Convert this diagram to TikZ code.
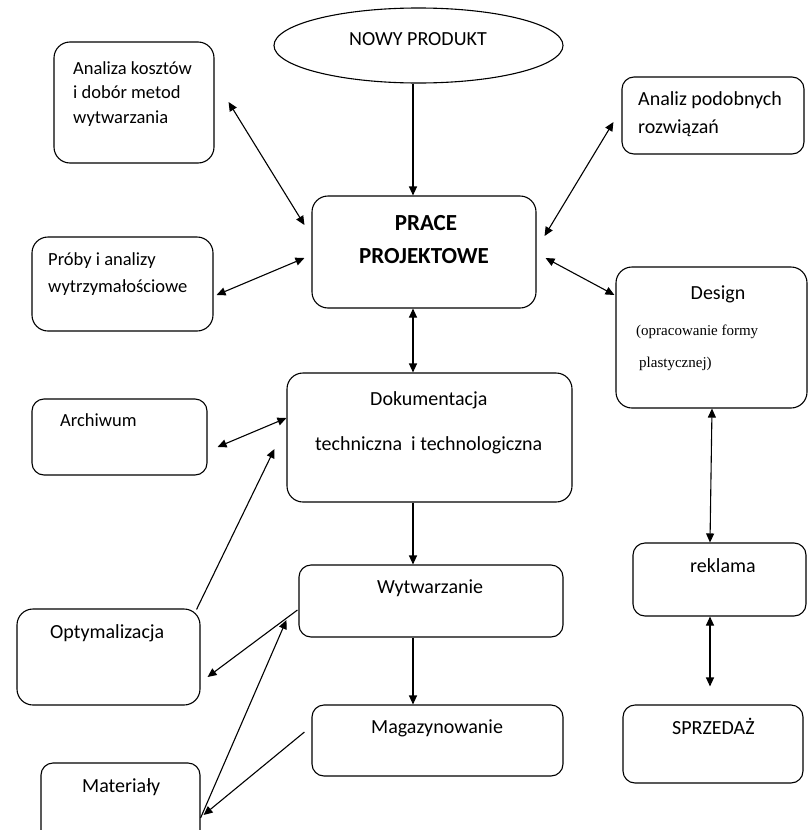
\documentclass[tikz,border=0pt]{standalone}
\usepackage{fontspec}
\setmainfont{Carlito}
\newfontfamily\timesfont{Liberation Serif}
\usetikzlibrary{shapes.geometric,arrows.meta}

\begin{document}
\begin{tikzpicture}[x=1pt, y=-1pt,
	box/.style={draw, line width=1.1pt, rounded corners=16pt},
	txt/.style={inner sep=0pt, font=\fontsize{20}{26}\selectfont},
	small/.style={font=\fontsize{18.5}{26}\selectfont},
	link/.style={line width=1.1pt, {Triangle[length=9pt,width=8pt]}-{Triangle[length=9pt,width=8pt]}},
	arr/.style={line width=1.1pt, -{Triangle[length=9pt,width=8pt]}}]

	\useasboundingbox (0,0) rectangle (808,830);

	%ramki
	\node[draw, line width=1.1pt, ellipse, minimum width=289pt, minimum height=75pt] (nowy) at (418.5,45.5) {};
	\node[box, minimum width=160pt, minimum height=121pt] (kosz) at (134,102.5) {};
	\node[box, minimum width=181pt, minimum height=94pt] (proby) at (122.5,284) {};
	\node[box, minimum width=224pt, minimum height=112pt] (prace) at (424,252) {};
	\node[box, minimum width=182pt, minimum height=77pt, rounded corners=12pt] (podob) at (713,115.5) {};
	\node[box, minimum width=191pt, minimum height=141pt] (design) at (711.5,337.5) {};
	\node[box, minimum width=285pt, minimum height=129pt] (dok) at (429.5,437.5) {};
	\node[box, minimum width=175pt, minimum height=76pt, rounded corners=12pt] (arch) at (119.5,437) {};
	\node[box, minimum width=264pt, minimum height=72pt, rounded corners=12pt] (wytw) at (431,601) {};
	\node[box, minimum width=251pt, minimum height=71pt, rounded corners=12pt] (magaz) at (437.5,740.5) {};
	\node[box, minimum width=183pt, minimum height=96pt] (optym) at (108.5,657) {};
	\node[box, minimum width=159pt, minimum height=82pt, rounded corners=12pt] (mater) at (120.5,804) {};
	\node[box, minimum width=173pt, minimum height=73pt, rounded corners=12pt] (rekl) at (719.5,579.5) {};
	\node[box, minimum width=180pt, minimum height=78pt, rounded corners=12pt] (sprz) at (713,744) {};

	%napisy
	\node[txt, anchor=base west] (nowy-t) at (349,45) {NOWY PRODUKT};
	\node[txt, small, anchor=base west] (kosz-t1) at (73,74) {Analiza kosztów};
	\node[txt, small, anchor=base west] (kosz-t2) at (73,98) {i dobór metod};
	\node[txt, small, anchor=base west] (kosz-t3) at (73,123) {wytwarzania};
	\node[txt, small, anchor=base west] (proby-t1) at (48,265) {Próby i analizy};
	\node[txt, small, anchor=base west] (proby-t2) at (48,292) {wytrzymałościowe};
	\node[txt, anchor=base, font=\fontsize{23}{26}\selectfont\bfseries] (prace-t1) at (426,230) {PRACE};
	\node[txt, anchor=base, font=\fontsize{23}{26}\selectfont\bfseries] (prace-t2) at (424,263) {PROJEKTOWE};
	\node[txt, anchor=base west] (podob-t1) at (638,105) {Analiz podobnych};
	\node[txt, anchor=base west] (podob-t2) at (638,133) {rozwiązań};
	\node[txt, anchor=base] (design-t1) at (718,299) {Design};
	\node[txt, anchor=base west, font=\timesfont\fontsize{15}{18}\selectfont] (design-t2) at (636,335) {(opracowanie formy};
	\node[txt, anchor=base west, font=\timesfont\fontsize{15}{18}\selectfont] (design-t3) at (639,367) {plastycznej)};
	\node[txt, anchor=base west] (dok-t1) at (370,405) {Dokumentacja};
	\node[txt, anchor=base west] (dok-t2) at (315,450) {techniczna\ \ i technologiczna};
	\node[txt, small, anchor=base west] (arch-t) at (60,426) {Archiwum};
	\node[txt, anchor=base west] (wytw-t) at (377,593) {Wytwarzanie};
	\node[txt, anchor=base west] (magaz-t) at (371,733) {Magazynowanie};
	\node[txt, anchor=base west] (optym-t) at (50,638) {Optymalizacja};
	\node[txt, anchor=base west] (mater-t) at (82,792) {Materiały};
	\node[txt, anchor=base west] (rekl-t) at (690,572) {reklama};
	\node[txt, anchor=base west] (sprz-t) at (672,734) {SPRZEDAŻ};

	%strzalki
	\draw[arr] ([xshift=-5.5pt]nowy.south) -- ([xshift=-11pt]prace.north);
	\draw[link] ([shift={(14,-0.5)}]kosz.east) -- ([shift={(-7,-27)}]prace.west);
	\draw[link] ([shift={(3,11)}]proby.east) -- ([shift={(-7,6)}]prace.west);
	\draw[link] ([shift={(-8,6.5)}]podob.west) -- ([shift={(8,-16)}]prace.east);
	\draw[link] ([shift={(-1,-42.5)}]design.west) -- ([shift={(9,6)}]prace.east);
	\draw[link] ([xshift=-11pt]prace.south) -- ([xshift=-11pt]prace.south |- dok.north);
	\draw[link] ([shift={(10,10)}]arch.east) -- ([shift={(0,-19.5)}]dok.west);
	\draw[arr] ([shift={(-4,1)}]optym.north east) -- ([shift={(-12,11.5)}]dok.west);
	\draw[arr] ([xshift=-16.5pt]dok.south) -- ([xshift=-16.5pt]dok.south |- wytw.north);
	\draw[arr] ([shift={(-1,9)}]wytw.west) -- ([shift={(7,20)}]optym.east);
	\draw[arr] ([shift={(0,14)}]mater.east) -- ([shift={(-12,19)}]wytw.west);
	\draw[arr] ([shift={(-7,-8.5)}]magaz.west) -- ([shift={(3,11)}]mater.east);
	\draw[arr] ([xshift=-18pt]wytw.south) -- ([xshift=-18pt]wytw.south |- magaz.north);
	\draw[link] ([xshift=0.5pt]design.south) -- ([xshift=-9.5pt]rekl.north);
	\draw[link] ([xshift=-9.5pt]rekl.south) -- ([shift={(-3,-18)}]sprz.north);

\end{tikzpicture}
\end{document}
